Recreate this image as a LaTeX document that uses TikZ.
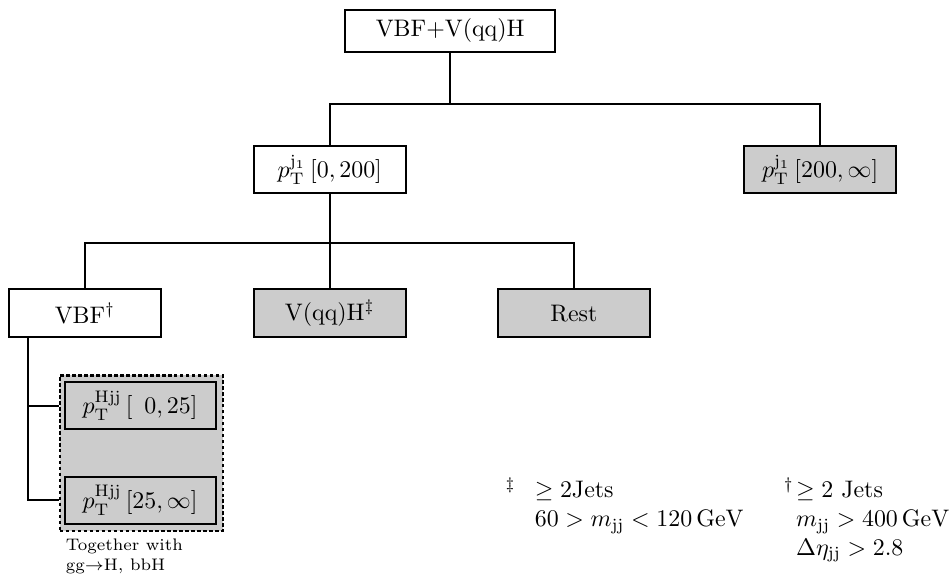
\documentclass[tikz,border=0pt]{standalone}
\usepackage{amsmath}
\begin{document}
\begin{tikzpicture}[
  box/.style={draw,thick,minimum width=2.24cm,minimum height=0.69cm,inner sep=2pt},
  shaded/.style={box,fill=gray!40},
  link/.style={thick}]
\useasboundingbox (0,0) rectangle (14,8.485);
% group behind the two Hjj bins
\node[draw,line width=1pt,dash pattern=on 1.5pt off 1pt,fill=gray!40,minimum width=2.40cm,minimum height=2.29cm] (grp) at (2.08,1.82) {};
\node[box,minimum width=3.09cm,minimum height=0.62cm] (top) at (6.62,8.03) {VBF+V(qq)H};
\node[box] (lo) at (4.85,5.99) {$p_{\mathrm{T}}^{\mathrm{j}_1}\,[0,200]$};
\node[shaded] (hi) at (12.06,5.99) {$p_{\mathrm{T}}^{\mathrm{j}_1}\,[200,\infty]$};
\node[box,minimum height=0.71cm] (vbf) at (1.25,3.88) {VBF$^\dagger$};
\node[shaded,minimum height=0.71cm] (vh) at (4.85,3.88) {V(qq)H$^\ddagger$};
\node[shaded,minimum height=0.71cm] (rest) at (8.44,3.88) {Rest};
\node[shaded,minimum width=2.22cm] (hjja) at (2.06,2.52) {$p_{\mathrm{T}}^{\mathrm{Hjj}}\,[\phantom{2}0,25]$};
\node[shaded,minimum width=2.22cm] (hjjb) at (2.06,1.13) {$p_{\mathrm{T}}^{\mathrm{Hjj}}\,[25,\infty]$};
% connectors
\draw[link] (top.south) -- (top.south |- 0,6.956) -| (lo.north);
\draw[link] (top.south |- 0,6.956) -| (hi.north);
\draw[link] (lo.south) -- (lo.south |- 0,4.912) -| (vbf.north);
\draw[link] (lo.south |- 0,4.912) -| (rest.north);
\draw[link] (lo.south |- 0,4.912) -- (vh.north);
\coordinate (trunk) at (0.41,3.53);
\draw[link] (trunk) |- (grp.west |- hjjb);
\draw[link] (trunk |- hjja) -- (grp.west |- hjja);
% notes
\node[anchor=north west,align=left,font=\scriptsize,inner sep=0pt] (with) at (0.96,0.56) {Together with\\gg$\rightarrow$H$,$ bbH};
\node[anchor=north west,inner sep=0pt] (noteVH) at (7.43,1.47) {\begin{tabular}{@{}l@{\hspace{8pt}}l@{}}
  $^\ddagger$ & $\geq 2$Jets\\
  & $60 > m_{\mathrm{jj}} < 120\,\mathrm{GeV}$
\end{tabular}};
\node[anchor=north west,inner sep=0pt] (noteVBF) at (11.52,1.47) {\begin{tabular}{@{}l@{\hspace{1pt}}l@{}}
  $^\dagger$ & $\geq 2$ Jets\\
  & $m_{\mathrm{jj}} > 400\,\mathrm{GeV}$\\
  & $\Delta\eta_{\mathrm{jj}} > 2.8$
\end{tabular}};
\end{tikzpicture}
\end{document}
